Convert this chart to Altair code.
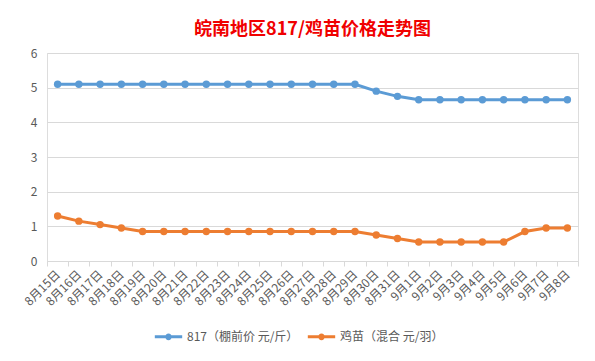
import altair as alt
import pandas as pd

dates = ["8月15日", "8月16日", "8月17日", "8月18日", "8月19日", "8月20日", "8月21日",
         "8月22日", "8月23日", "8月24日", "8月25日", "8月26日", "8月27日", "8月28日",
         "8月29日", "8月30日", "8月31日", "9月1日", "9月2日", "9月3日", "9月4日",
         "9月5日", "9月6日", "9月7日", "9月8日"]
s817 = [5.1, 5.1, 5.1, 5.1, 5.1, 5.1, 5.1, 5.1, 5.1, 5.1, 5.1, 5.1, 5.1, 5.1,
        5.1, 4.9, 4.75, 4.65, 4.65, 4.65, 4.65, 4.65, 4.65, 4.65, 4.65]
chick = [1.3, 1.15, 1.05, 0.95, 0.85, 0.85, 0.85, 0.85, 0.85, 0.85, 0.85, 0.85, 0.85, 0.85,
         0.85, 0.75, 0.65, 0.55, 0.55, 0.55, 0.55, 0.55, 0.85, 0.95, 0.95]
names = ["817（棚前价 元/斤）", "鸡苗（混合 元/羽）"]
colors = ["#5B9BD5", "#ED7D31"]

rows = []
for i, d in enumerate(dates):
    rows.append({"date": d, "series": names[0], "value": s817[i], "order": i})
    rows.append({"date": d, "series": names[1], "value": chick[i], "order": i})
df = pd.DataFrame(rows)

font = "Noto Sans CJK SC"
x = alt.X("date:N", sort=dates, title=None,
          scale=alt.Scale(type="band", paddingInner=0, paddingOuter=0),
          axis=alt.Axis(labelAngle=-45, labelAlign="right", labelBaseline="middle",
                        labelFontSize=12, labelColor="#595959", labelFont=font,
                        labelPadding=6, tickBand="extent", tickColor="#d9d9d9",
                        tickSize=5, domainColor="#d9d9d9", labelOverlap=False))
y = alt.Y("value:Q", title=None,
          scale=alt.Scale(domain=[0, 6]),
          axis=alt.Axis(values=[0, 1, 2, 3, 4, 5, 6], domain=False, ticks=False,
                        gridColor="#d9d9d9", labelColor="#595959", labelFontSize=12,
                        labelFont=font, labelPadding=10))
color = alt.Color("series:N", sort=names, title=None,
                  scale=alt.Scale(domain=names, range=colors),
                  legend=alt.Legend(orient="none", direction="horizontal",
                                    legendX=106, legendY=268,
                                    symbolType="M-1,0L1,0M0.13,0A0.13,0.13 0 1,1 -0.13,0A0.13,0.13 0 1,1 0.13,0",
                                    symbolSize=750, symbolStrokeWidth=3,
                                    labelFontSize=12, labelColor="#595959",
                                    labelFont=font, columnPadding=2,
                                    labelOffset=3, labelLimit=300))

base = alt.Chart(df)
line = base.mark_line(strokeWidth=3).encode(x=x, y=y, color=color, order="order:Q")
pts = base.mark_circle(size=55, opacity=1).encode(x=x, y=y, color=color)

chart = alt.layer(line, pts).properties(
    width=531, height=208,
    title=alt.TitleParams("皖南地区817/鸡苗价格走势图", color="#F00000", fontSize=18,
                          font=font, fontWeight="bold", anchor="middle", offset=8),
    padding={"left": 39, "top": 45, "right": 9, "bottom": 92},
    autosize=alt.AutoSizeParams(type="none"),
).configure_view(stroke=None).configure(background="white")

chart.save("out.html", embed_options={"renderer": "svg", "actions": False})
